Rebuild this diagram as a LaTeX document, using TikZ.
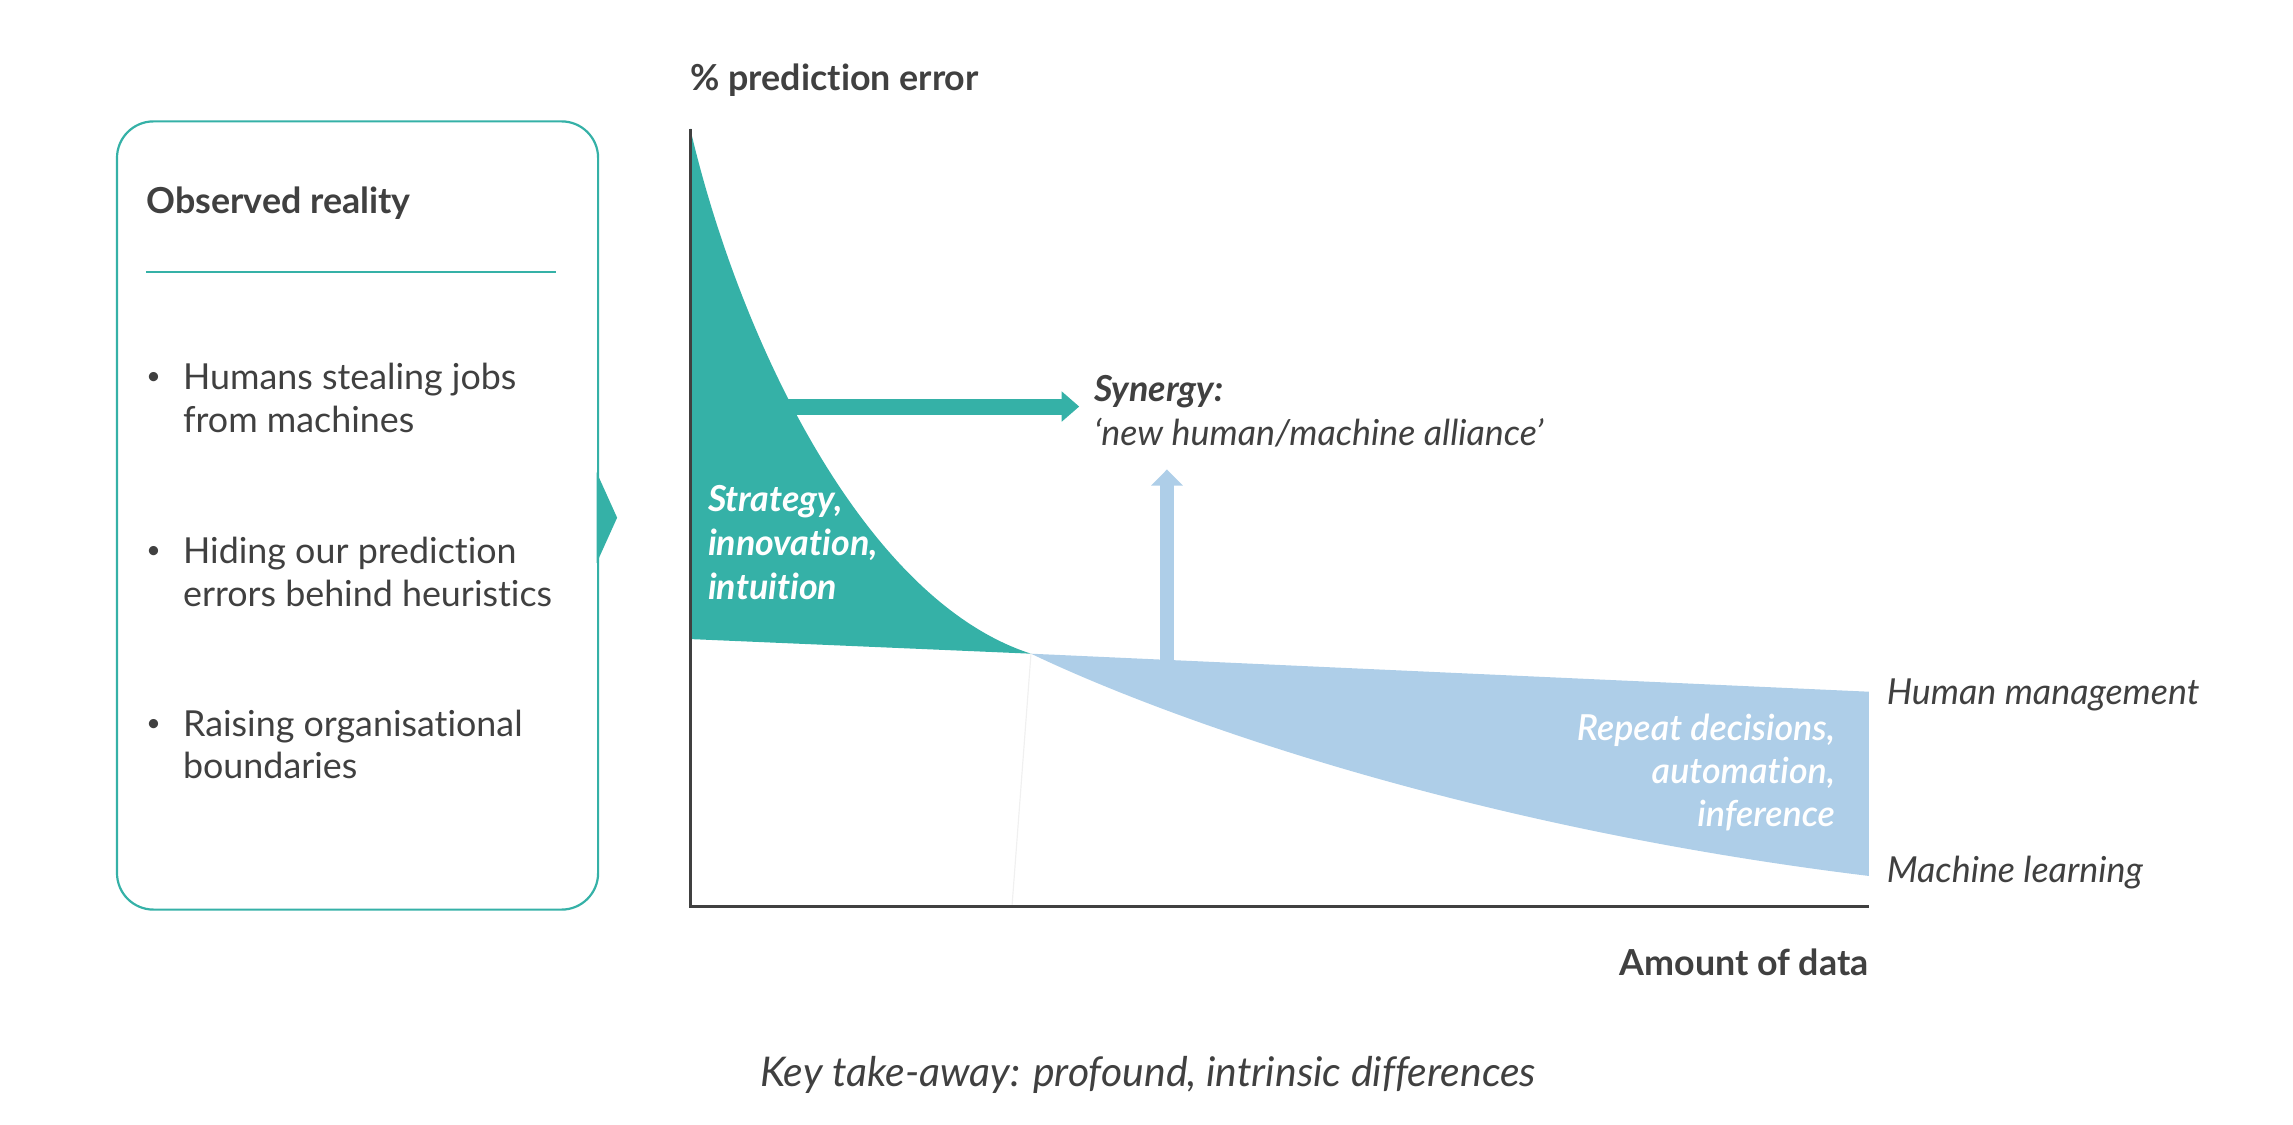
\documentclass[tikz,border=0pt]{standalone}
\usepackage{fontspec}
\setmainfont{Lato}[Ligatures=NoCommon]
\newfontfamily\semibold{Lato Semibold}[Ligatures=NoCommon]
\usetikzlibrary{arrows.meta}
\definecolor{tealc}{RGB}{53,177,167}
\definecolor{blue1}{RGB}{174,206,232}
\definecolor{darkg}{RGB}{64,64,64}

\begin{document}
\begin{tikzpicture}[x=1pt,y=-1pt,
	txt/.style={text=darkg,inner sep=0pt,font=\fontsize{24.5}{29}\selectfont},
	wtxt/.style={text=white,inner sep=0pt,font=\fontsize{24.5}{30}\selectfont}]
		\useasboundingbox (0,0) rectangle (1568,769);
		
		% left box
		\draw[tealc,line width=1.5pt,rounded corners=25pt] (80,83) rectangle (409,622);
		\fill[tealc] (408,323) -- (422,354) -- (408,385) -- cycle;
		\node[txt,anchor=west,font=\fontsize{24.5}{29}\selectfont\bfseries] (obs) at (100,139) {Observed reality};
		\draw[tealc,line width=0.8pt] (100,186) -- (380,186);
		\node[txt,font=\fontsize{17}{20}\selectfont] (d1) at (105,259) {\textbullet};
		\node[txt,font=\fontsize{17}{20}\selectfont] (d2) at (105,378) {\textbullet};
		\node[txt,font=\fontsize{17}{20}\selectfont] (d3) at (105,496) {\textbullet};
		\node[txt,anchor=west,align=left] (it1) at (125,272) {Humans stealing jobs\\from machines};
		\node[txt,anchor=west,align=left] (it2) at (125,391) {Hiding our prediction\\errors behind heuristics};
		\node[txt,anchor=west,align=left] (it3) at (125,509) {Raising organisational\\boundaries};
		
		% chart
		\coordinate (top) at (472,88);
		\coordinate (orig) at (472,620);
		\coordinate (xend) at (1278,620);
		\coordinate (jn) at (705,447);
		\fill[tealc] (top) .. controls (505,230) and (590,410) .. (jn) -- (472,437) -- cycle;
		\fill[blue1] (jn) -- (1278,473) -- (1278,599) .. controls (1000,565) and (795,490) .. (jn) -- cycle;
		\draw[black!6,line width=0.8pt] (jn) -- (692,620);
		\draw[darkg,line width=2pt] (top) -- (orig) -- (xend);
		\node[txt,anchor=west,font=\fontsize{24.5}{29}\selectfont\bfseries] (yl) at (472,55) {\% prediction error};
		\node[txt,anchor=east,font=\fontsize{24.5}{29}\selectfont\bfseries] (xl) at (1278,658) {Amount of data};
		
		\node[wtxt,anchor=west,align=left,font=\fontsize{24.5}{30}\selectfont\bfseries\itshape] (str) at (484,371) {Strategy,\\innovation,\\intuition};
		\node[wtxt,anchor=east,align=right,font=\fontsize{24.5}{29.5}\selectfont\semibold\itshape] (rep) at (1255,528) {Repeat decisions,\\automation,\\inference};
		\node[txt,anchor=west,font=\fontsize{24.5}{29}\selectfont\itshape] (hm) at (1290,475) {Human management};
		\node[txt,anchor=west,font=\fontsize{24.5}{29}\selectfont\itshape] (ml) at (1290,597) {Machine learning};
		
		\node[txt,anchor=west,font=\fontsize{24.5}{29}\selectfont\bfseries\itshape] (syn) at (748,268) {Synergy:};
		\node[txt,anchor=west,font=\fontsize{24.5}{29}\selectfont\itshape] (all) at (748,296) {‘new human/machine alliance’};
		\coordinate (a1) at (528,278);
		\coordinate (a2) at (738,278);
		\draw[tealc,line width=11pt,-{Triangle[width=20pt,length=12pt]}] (a1) -- (a2);
		\coordinate (b1) at (798,452);
		\coordinate (b2) at (798,321);
		\draw[blue1,line width=10pt,-{Triangle[width=21pt,length=11pt]}] (b1) -- (b2);
		
		\node[txt,font=\fontsize{28}{32}\selectfont\itshape] (key) at (785,735) {Key take-away: profound, intrinsic differences};
		\end{tikzpicture}
\end{document}
